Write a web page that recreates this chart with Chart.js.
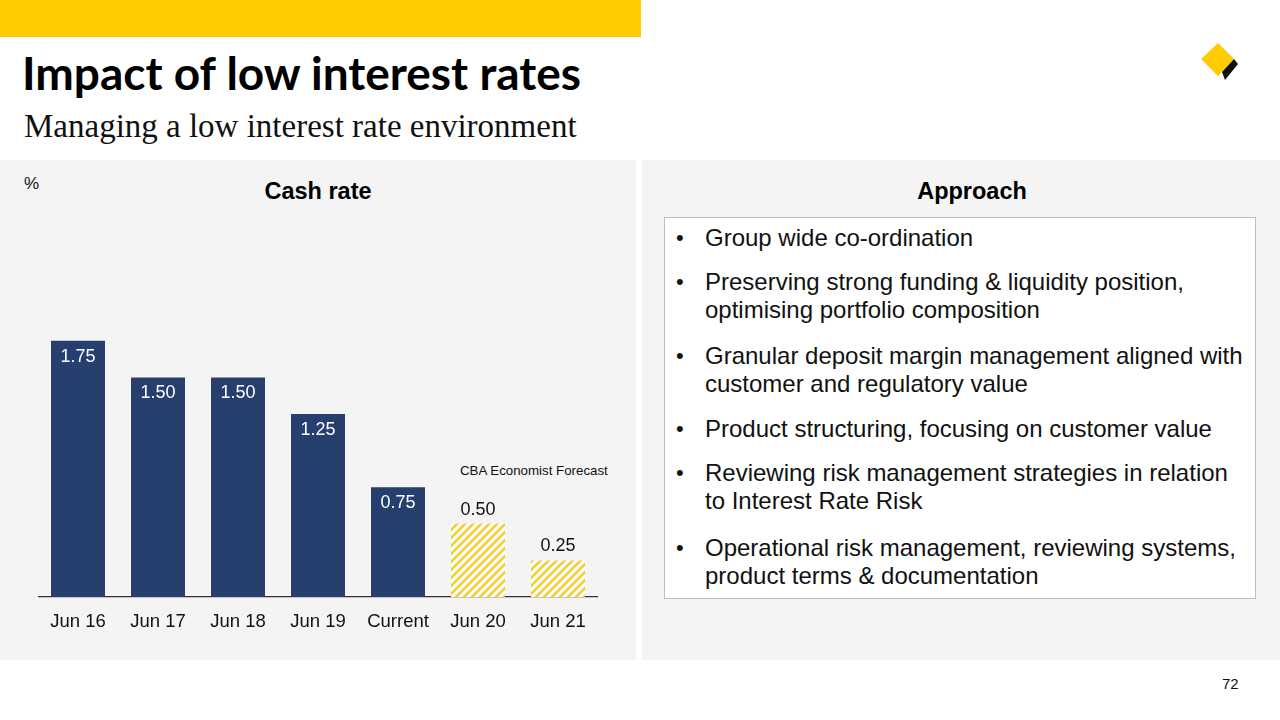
<!DOCTYPE html>
<html>
<head>
<meta charset="utf-8">
<script src="https://cdn.jsdelivr.net/npm/chart.js@4.4.1/dist/chart.umd.min.js"></script>
<style>
  body { margin: 0; width: 1280px; height: 720px; background: #fff; position: relative; overflow: hidden; font-family: "Liberation Sans", Arial, sans-serif; }
  .abs { position: absolute; }
  #topbar { left: 0; top: 0; width: 641px; height: 37px; background: #FFCC00; }
  #title { left: 22px; top: 45px; font-family: Lato, sans-serif; font-weight: 700; font-size: 46px; color: #000; white-space: nowrap; }
  #subtitle { left: 24px; top: 108px; font-family: "Liberation Serif", serif; font-size: 33px; color: #111; white-space: nowrap; }
  #panelL { left: 0; top: 160px; width: 636px; height: 500px; background: #F4F4F4; }
  #panelR { left: 642px; top: 160px; width: 638px; height: 500px; background: #F4F4F4; }
  #pct { left: 24px; top: 174px; font-size: 17px; color: #111; }
  .head { top: 178px; font-size: 23.5px; font-weight: 700; color: #000; transform: translateX(-50%); white-space: nowrap; }
  #box { left: 664px; top: 217px; width: 590px; height: 380px; background: #fff; border: 1px solid #BDBDBD; }
  .bul { left: 676px; font-size: 24px; color: #111; line-height: 28px; white-space: nowrap; }
  .bul span.dot { position: absolute; left: 0; font-size: 22px; }
  .bul span.txt { position: absolute; left: 29px; }
  #fc { left: 460px; top: 463px; font-size: 13.3px; color: #111; white-space: nowrap; }
  #page { left: 1222px; top: 675px; font-size: 15px; color: #111; }
  #chartWrap { left: 38px; top: 231px; width: 560px; height: 406px; }
</style>
</head>
<body>
<div class="abs" id="topbar"></div>
<div class="abs" id="title">Impact of low interest rates</div>
<div class="abs" id="subtitle">Managing a low interest rate environment</div>
<svg class="abs" style="left:1196px;top:40px" width="46" height="46" viewBox="0 0 46 46">
  <polygon points="22,3 38,19 22,36 5,19" fill="#FFCC00"/>
  <polygon points="38,19 42,24 29,40 26,32" fill="#111"/>
</svg>
<div class="abs" id="panelL"></div>
<div class="abs" id="panelR"></div>
<div class="abs" id="pct">%</div>
<div class="abs head" style="left:318px">Cash rate</div>
<div class="abs head" style="left:972px">Approach</div>
<div class="abs" id="box"></div>
<div id="bullets"></div>
<div class="abs" id="fc">CBA Economist Forecast</div>
<div class="abs" id="page">72</div>
<div class="abs" id="chartWrap"><canvas id="c" width="560" height="406"></canvas></div>
<script>
// chart data
const categories = ['Jun 16', 'Jun 17', 'Jun 18', 'Jun 19', 'Current', 'Jun 20', 'Jun 21'];
const cashRate = [1.75, 1.50, 1.50, 1.25, 0.75, 0.50, 0.25];
const isForecast = [false, false, false, false, false, true, true];

// right panel text
const approach = [
  ['Group wide co-ordination'],
  ['Preserving strong funding & liquidity position,', 'optimising portfolio composition'],
  ['Granular deposit margin management aligned with', 'customer and regulatory value'],
  ['Product structuring, focusing on customer value'],
  ['Reviewing risk management strategies in relation', 'to Interest Rate Risk'],
  ['Operational risk management, reviewing systems,', 'product terms & documentation']
];
const bulletTops = [224, 268, 342, 415, 459, 534];

const bulletsEl = document.getElementById('bullets');
approach.forEach((lines, i) => {
  const d = document.createElement('div');
  d.className = 'abs bul';
  d.style.top = bulletTops[i] + 'px';
  d.innerHTML = '<span class="dot">•</span><span class="txt">' +
    lines.map(l => l.replace(/&/g, '&amp;')).join('<br>') + '</span>';
  bulletsEl.appendChild(d);
});

// hatched fill for forecast bars
function makeHatch() {
  const p = document.createElement('canvas');
  p.width = 8; p.height = 8;
  const g = p.getContext('2d');
  g.fillStyle = '#ffffff';
  g.fillRect(0, 0, 8, 8);
  g.strokeStyle = '#F3CD2E';
  g.lineWidth = 2.6;
  g.beginPath();
  g.moveTo(-2, 10); g.lineTo(10, -2);
  g.moveTo(-6, 6); g.lineTo(6, -6);
  g.moveTo(2, 14); g.lineTo(14, 2);
  g.stroke();
  return g.createPattern(p, 'repeat');
}
const hatch = makeHatch();

// value labels
const valueLabels = {
  id: 'valueLabels',
  afterDatasetsDraw(chart) {
    const ctx = chart.ctx;
    const meta = chart.getDatasetMeta(0);
    ctx.save();
    ctx.font = '18px "Liberation Sans", Arial, sans-serif';
    ctx.textAlign = 'center';
    meta.data.forEach((bar, i) => {
      const txt = cashRate[i].toFixed(2);
      if (isForecast[i]) {
        ctx.fillStyle = '#111';
        ctx.textBaseline = 'bottom';
        ctx.fillText(txt, bar.x, bar.y - 5);
      } else {
        ctx.fillStyle = '#fff';
        ctx.textBaseline = 'top';
        ctx.fillText(txt, bar.x, bar.y + 7);
      }
    });
    ctx.restore();
  }
};

const ctx = document.getElementById('c').getContext('2d');
new Chart(ctx, {
  type: 'bar',
  data: {
    labels: categories,
    datasets: [{
      data: cashRate,
      backgroundColor: isForecast.map(f => f ? hatch : '#273F6E'),
      borderWidth: 0,
      categoryPercentage: 1,
      barPercentage: 0.675
    }]
  },
  options: {
    responsive: false,
    animation: false,
    maintainAspectRatio: false,
    layout: { padding: 0 },
    plugins: { legend: { display: false }, tooltip: { enabled: false } },
    scales: {
      x: {
        grid: { display: false },
        border: { display: true, color: '#333', width: 1.2 },
        ticks: { color: '#111', font: { family: '"Liberation Sans", Arial, sans-serif', size: 18.5 }, padding: 6, maxRotation: 0, autoSkip: false },
        afterFit(axis) { axis.height = 40; }
      },
      y: { display: false, min: 0, max: 2.5 }
    }
  },
  plugins: [valueLabels]
});
</script>
</body>
</html>
